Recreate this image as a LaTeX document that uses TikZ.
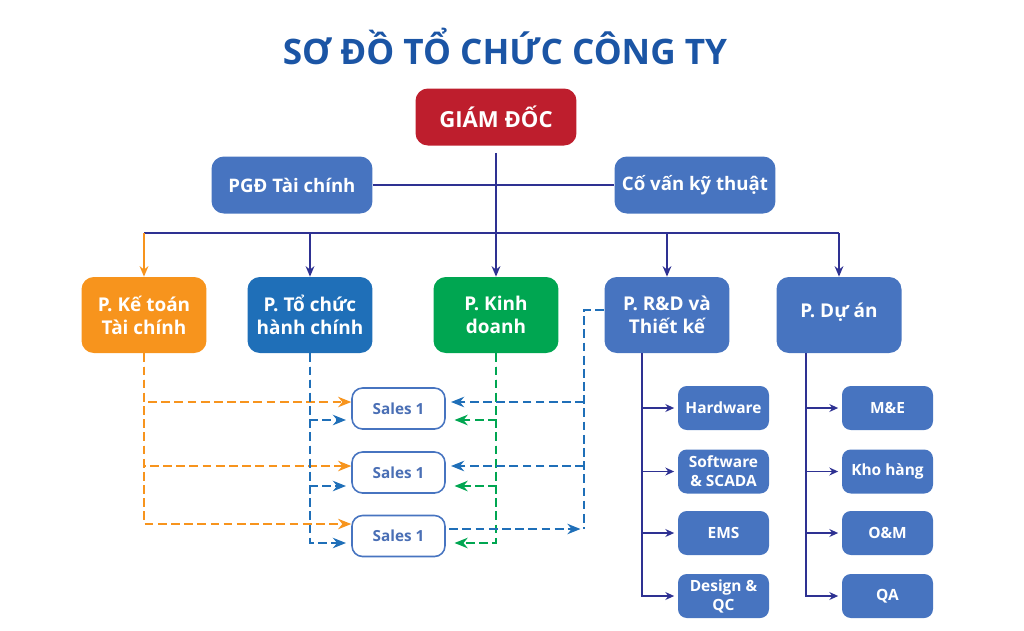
\documentclass[tikz,border=0pt]{standalone}
\usepackage{fontspec}
\setmainfont{Open Sans}
\usetikzlibrary{arrows.meta}

\definecolor{titleblue}{HTML}{1B55A5}
\definecolor{gdred}{HTML}{BE1E2D}
\definecolor{deptblue}{HTML}{4774C0}
\definecolor{tcblue}{HTML}{1F6FB8}
\definecolor{ktorange}{HTML}{F7941D}
\definecolor{kdgreen}{HTML}{00A651}
\definecolor{navy}{HTML}{2E3192}
\definecolor{salesblue}{HTML}{4A6FB5}

\begin{document}
\begin{tikzpicture}[x=0.02cm, y=-0.02cm,
    box/.style={rounded corners=7pt, text=white, align=center, inner sep=2pt,
        minimum width=2.5cm, minimum height=1.52cm,
        font=\bfseries\fontsize{10.8}{13}\selectfont},
    topbox/.style={box, minimum width=3.22cm, minimum height=1.14cm,
        font=\bfseries\fontsize{10.6}{13}\selectfont},
    subbox/.style={rounded corners=5pt, fill=deptblue, text=white, align=center,
        inner sep=1pt, minimum width=1.82cm, minimum height=0.88cm,
        font=\bfseries\fontsize{8.8}{10.8}\selectfont},
    salesbox/.style={rounded corners=6pt, draw=deptblue, line width=0.9pt, fill=white,
        text=salesblue, minimum width=1.86cm, minimum height=0.82cm,
        font=\bfseries\fontsize{8.7}{10}\selectfont},
    trunk/.style={navy, line width=0.8pt},
    trunkarrow/.style={trunk, -{Stealth[length=6pt,width=5pt]}},
    subarrow/.style={trunk, -{Stealth[length=5pt,width=4.5pt]}, shorten >=2pt},
    link/.style={line width=0.7pt, dash pattern=on 5pt off 2.5pt,
        -{Stealth[length=7.5pt,width=6pt]}}
]
    \useasboundingbox (0,0) rectangle (1024,630);

    % Title
    \node[text=titleblue, font=\bfseries\fontsize{20}{24}\selectfont] (title) at (505,46) {SƠ ĐỒ TỔ CHỨC CÔNG TY};

    % Board
    \node[topbox, fill=gdred, font=\bfseries\fontsize{12.6}{15}\selectfont] (gd) at (496,117) {GIÁM ĐỐC};
    \node[topbox, fill=deptblue] (pgd) at (292,185) {PGĐ Tài chính};
    \node[topbox, fill=deptblue] (cv) at (695,185) {Cố vấn kỹ thuật};

    % Departments
    \node[box, fill=ktorange] (kt) at (144,315) {P. Kế toán\\Tài chính};
    \node[box, fill=tcblue] (tc) at (310,315) {P. Tổ chức\\hành chính};
    \node[box, fill=kdgreen] (kd) at (496,315) {P. Kinh\\doanh};
    \node[box, fill=deptblue] (rd) at (667,315) {P. R\&D và\\Thiết kế};
    \node[box, fill=deptblue] (da) at (839,315) {\raisebox{5pt}{P. Dự án}};

    % Sales boxes
    \node[salesbox] (s1) at (398.5,408.5) {Sales 1};
    \node[salesbox] (s2) at (398.5,472.5) {Sales 1};
    \node[salesbox] (s3) at (398.5,536) {Sales 1};

    % R&D teams
    \node[subbox] (hw) at (723.5,408) {Hardware};
    \node[subbox] (sw) at (723.5,471.5) {Software\\\& SCADA};
    \node[subbox] (ems) at (723.5,533) {EMS};
    \node[subbox] (dq) at (723.5,596) {Design \&\\QC};

    % Project teams
    \node[subbox] (me) at (887.5,408) {M\&E};
    \node[subbox] (kho) at (887.5,471.5) {Kho hàng};
    \node[subbox] (om) at (887.5,533) {O\&M};
    \node[subbox] (qa) at (887.5,596) {QA};

    % Levels
    \coordinate (bus) at (0,233);
    \coordinate (ya1) at (0,402);
    \coordinate (ya2) at (0,466);
    \coordinate (ya3) at (0,524);
    \coordinate (yb1) at (0,420);
    \coordinate (yb2) at (0,486);
    \coordinate (yb3) at (0,543);
    \coordinate (yc3) at (0,529);
    \coordinate (rdbus) at (584,310);
    \coordinate (rdt) at (642,0);
    \coordinate (dat) at (806,0);

    % Main lines
    \draw[trunk] (pgd.east) -- (cv.west);
    \draw[trunkarrow] ([yshift=-4pt]gd.south) -- (kd.north);
    \draw[trunk] (kt.north |- bus) -- (da.north |- bus);
    \draw[trunkarrow, ktorange] (kt.north |- bus) -- (kt.north);
    \foreach \d in {tc,rd,da}
        \draw[trunkarrow] (\d.north |- bus) -- (\d.north);

    % Links to sales
    \foreach \s/\y in {s1/ya1, s2/ya2, s3/ya3}
        \draw[link, ktorange] (kt.south) |- (\s.west |- \y);
    \foreach \s/\y in {s1/yb1, s2/yb2, s3/yb3}{
        \draw[link, tcblue, shorten >=3pt] (tc.south) |- (\s.west |- \y);
        \draw[link, kdgreen, shorten >=5pt] (kd.south) |- (\s.east |- \y);
    }
    \draw[link, -, tcblue] (rd.west |- rdbus) -| (rdbus |- yc3);
    \foreach \s/\y in {s1/ya1, s2/ya2}
        \draw[link, tcblue, shorten >=3pt] (rdbus |- \y) -- (\s.east |- \y);
    \draw[link, tcblue, shorten <=2pt, shorten >=2pt] (s3.east |- yc3) -- (rdbus |- yc3);

    % Teams
    \foreach \b in {hw,sw,ems,dq}
        \draw[subarrow] (rdt |- rd.south) |- (\b.west);
    \foreach \b in {me,kho,om,qa}
        \draw[subarrow] (dat |- da.south) |- (\b.west);
\end{tikzpicture}
\end{document}
